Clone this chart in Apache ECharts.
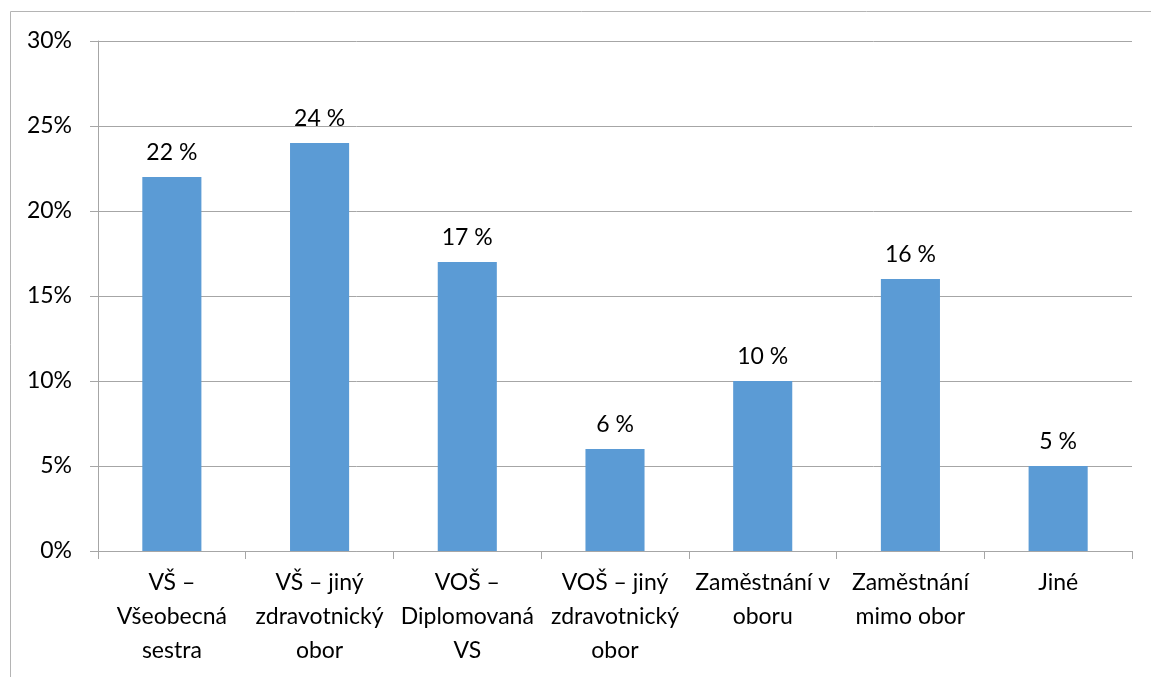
<!DOCTYPE html>
<html><head><meta charset="utf-8">
<script src="https://cdn.jsdelivr.net/npm/echarts@6/dist/echarts.min.js"></script>
<style>html,body{margin:0;padding:0;background:#fff}#c{width:1151px;height:677px}</style>
</head><body><div id="c"></div>
<script>
const categories = ["VŠ –\nVšeobecná\nsestra", "VŠ – jiný\nzdravotnický\nobor", "VOŠ –\nDiplomovaná\nVS", "VOŠ – jiný\nzdravotnický\nobor", "Zaměstnání v\noboru", "Zaměstnání\nmimo obor", "Jiné"];
const values = [22, 24, 17, 6, 10, 16, 5];
const yTicks = [0, 5, 10, 15, 20, 25, 30];

const chart = echarts.init(document.getElementById('c'));
const font = 'Lato, "Open Sans", sans-serif';
chart.setOption({
  animation: false,
  graphic: [{type:'rect', shape:{x:10.5, y:11.5, width:1300, height:800}, style:{fill:'none', stroke:'#b4b4b4', lineWidth:1}}],
  grid: {left: 98, right: 19, top: 41, bottom: 126},
  xAxis: {
    type: 'category', data: categories,
    axisLine: {lineStyle: {color: '#a6a6a6'}},
    axisTick: {show: true, length: 8, lineStyle: {color: '#a6a6a6'}},
    axisLabel: {color: '#000', fontFamily: font, fontSize: 23, lineHeight: 34, margin: 15, interval: 0}
  },
  yAxis: {
    type: 'value', min: 0, max: 30, interval: 5,
    axisLine: {show: true, lineStyle: {color: '#a6a6a6'}},
    axisTick: {show: true, length: 8, lineStyle: {color: '#a6a6a6'}},
    splitLine: {lineStyle: {color: '#a6a6a6'}},
    axisLabel: {color: '#000', fontFamily: font, fontSize: 23, margin: 26,
      formatter: v => yTicks.includes(v) ? v + '%' : ''}
  },
  series: [{
    type: 'bar', data: values, barWidth: '40%',
    itemStyle: {color: '#5b9bd5'},
    label: {show: true, position: 'top', distance: 13, color: '#000', fontFamily: font, fontSize: 23,
      formatter: p => p.value + ' %'}
  }]
});
</script></body></html>
